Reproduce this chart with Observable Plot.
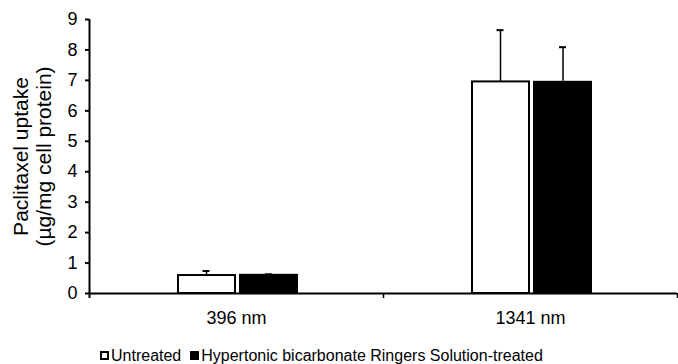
<!DOCTYPE html>
<html><head><meta charset="utf-8">
<script src="https://cdn.jsdelivr.net/npm/d3@7"></script>
<script src="https://cdn.jsdelivr.net/npm/@observablehq/plot@0.6"></script>
<style>
body{margin:0;background:#fff;font-family:"Liberation Sans",Arial,sans-serif;}
#legend{height:28px;padding-top:11px;padding-left:100px;font-size:16px;line-height:18px;white-space:nowrap;color:#000;}
.sw{display:inline-block;box-sizing:border-box;width:9px;height:9px;border:2px solid #000;vertical-align:1px;margin-right:2px;}
</style></head><body><div id="chart"></div><div id="legend"></div><script>
const categories = ["396 nm", "1341 nm"];
const untreated = [0.59, 6.95];
const untreatedErr = [0.15, 1.70];
const treated = [0.63, 6.97];
const treatedErr = [0.0, 1.12];
const yTicks = [0, 1, 2, 3, 4, 5, 6, 7, 8, 9];
const seriesNames = ["Untreated", "Hypertonic bicarbonate Ringers Solution-treated"];
const seriesFills = ["#ffffff", "#000000"];
const yLabel = "Paclitaxel uptake\n(µg/mg cell protein)";

const rowsU = categories.map((c, i) => ({category: c, value: untreated[i], top: untreated[i] + untreatedErr[i]}));
const rowsT = categories.map((c, i) => ({category: c, value: treated[i], top: treated[i] + treatedErr[i]}));

const plot = Plot.plot({
  width: 678, height: 336,
  marginLeft: 89, marginRight: 1, marginTop: 19, marginBottom: 43,
  style: {fontFamily: "'Liberation Sans', Arial, sans-serif", fontSize: "18px", color: "#000", background: "#fff", display: "block"},
  x: {domain: categories, padding: 0},
  y: {domain: [0, 9]},
  marks: [
    Plot.barY(rowsU, {x: "category", y: "value", fill: seriesFills[0], stroke: "#000", strokeWidth: 2, insetLeft: 89, insetRight: 148}),
    Plot.barY(rowsT, {x: "category", y: "value", fill: seriesFills[1], insetLeft: 150, insetRight: 85}),
    Plot.ruleX(rowsU, {x: "category", y1: "value", y2: "top", dx: -30, stroke: "#000", strokeWidth: 1.5}),
    Plot.tickY(rowsU, {x: "category", y: "top", dx: -30, insetLeft: 143.5, insetRight: 143.5, stroke: "#000", strokeWidth: 2}),
    Plot.ruleX(rowsT, {x: "category", y1: "value", y2: "top", dx: 32.5, stroke: "#000", strokeWidth: 1.5}),
    Plot.tickY(rowsT, {x: "category", y: "top", dx: 32.5, insetLeft: 143.5, insetRight: 143.5, stroke: "#000", strokeWidth: 2}),
    Plot.ruleY([0], {stroke: "#000", strokeWidth: 2}),
    Plot.ruleX([categories[0]], {x: d => d, dx: -147, insetBottom: -5, stroke: "#000", strokeWidth: 2}),
    Plot.ruleX(categories.slice(1), {x: d => d, y1: 0, y2: 0, dx: -147, insetBottom: -5, stroke: "#000", strokeWidth: 1.5}),
    Plot.ruleX([categories[categories.length - 1]], {x: d => d, y1: 0, y2: 0, dx: 147, insetBottom: -5, stroke: "#000", strokeWidth: 1.5}),
    Plot.axisY({ticks: yTicks, tickFormat: d => String(d), tickSize: 4, tickPadding: 8, fontSize: 18, strokeWidth: 2, label: null}),
    Plot.axisX({tickSize: 0, tickPadding: 18, fontSize: 18, label: null}),
    Plot.text([yLabel], {text: d => d, frameAnchor: "left", textAnchor: "middle", lineAnchor: "middle", dx: -57, rotate: -90, fontSize: 21, lineHeight: 1.1, fill: "#000"})
  ]
});
document.getElementById("chart").appendChild(plot);

const legend = document.getElementById("legend");
seriesNames.forEach((name, i) => {
  const sw = document.createElement("span");
  sw.className = "sw";
  sw.style.background = seriesFills[i];
  if (i > 0) sw.style.marginLeft = "9px";
  legend.appendChild(sw);
  legend.appendChild(document.createTextNode(name));
});
</script></body></html>
